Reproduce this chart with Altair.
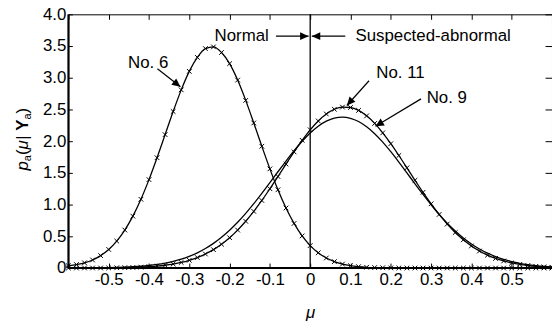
import math
import altair as alt
import pandas as pd

# ---------------- data ----------------
mu = [-0.60, -0.58, -0.56, -0.54, -0.52, -0.50, -0.48, -0.46, -0.44, -0.42,
      -0.40, -0.38, -0.36, -0.34, -0.32, -0.30, -0.28, -0.26, -0.24, -0.22,
      -0.20, -0.18, -0.16, -0.14, -0.12, -0.10, -0.08, -0.06, -0.04, -0.02,
      0.00, 0.02, 0.04, 0.06, 0.08, 0.10, 0.12, 0.14, 0.16, 0.18,
      0.20, 0.22, 0.24, 0.26, 0.28, 0.30, 0.32, 0.34, 0.36, 0.38,
      0.40, 0.42, 0.44, 0.46, 0.48, 0.50, 0.52, 0.54, 0.56, 0.58, 0.60]

no6 = [0.035, 0.055, 0.082, 0.127, 0.196, 0.293, 0.425, 0.599, 0.818, 1.084,
       1.394, 1.739, 2.103, 2.468, 2.809, 3.101, 3.321, 3.460, 3.487, 3.398,
       3.222, 2.963, 2.643, 2.287, 1.920, 1.563, 1.234, 0.946, 0.703, 0.506,
       0.354, 0.240, 0.158, 0.101, 0.062, 0.037, 0.022, 0.012, 0.007, 0.004,
       0.002, 0.001, 0.0, 0.0, 0.0, 0.0, 0.0, 0.0, 0.0, 0.0,
       0.0, 0.0, 0.0, 0.0, 0.0, 0.0, 0.0, 0.0, 0.0, 0.0, 0.0]

no11 = [0.000, 0.000, 0.001, 0.001, 0.001, 0.002, 0.004, 0.006, 0.009, 0.014,
        0.021, 0.030, 0.044, 0.063, 0.088, 0.122, 0.165, 0.221, 0.290, 0.375,
        0.478, 0.598, 0.737, 0.893, 1.065, 1.250, 1.443, 1.639, 1.831, 2.014,
        2.179, 2.319, 2.429, 2.503, 2.537, 2.531, 2.485, 2.399, 2.280, 2.131,
        1.960, 1.774, 1.580, 1.384, 1.193, 1.012, 0.845, 0.693, 0.560, 0.445,
        0.348, 0.268, 0.203, 0.151, 0.111, 0.080, 0.057, 0.040, 0.027, 0.018, 0.012]

no9 = [0.001, 0.001, 0.002, 0.003, 0.004, 0.006, 0.009, 0.014, 0.020, 0.028,
       0.040, 0.056, 0.077, 0.105, 0.140, 0.185, 0.240, 0.308, 0.389, 0.485,
       0.596, 0.721, 0.861, 1.014, 1.176, 1.345, 1.518, 1.687, 1.850, 1.999,
       2.130, 2.237, 2.316, 2.365, 2.380, 2.361, 2.310, 2.227, 2.118, 1.985,
       1.834, 1.671, 1.500, 1.328, 1.160, 0.998, 0.846, 0.708, 0.584, 0.474,
       0.380, 0.300, 0.234, 0.180, 0.136, 0.102, 0.075, 0.054, 0.039, 0.027, 0.019]

series_names = ["No. 6", "No. 11", "No. 9"]
marked_series = ["No. 6", "No. 11"]

x_ticks = [-0.6, -0.5, -0.4, -0.3, -0.2, -0.1, 0.0, 0.1, 0.2, 0.3, 0.4, 0.5, 0.6]
y_ticks = [0.0, 0.5, 1.0, 1.5, 2.0, 2.5, 3.0, 3.5, 4.0]

# annotation texts and anchors (data units)
label_text = ["Normal", "Suspected-abnormal", "No. 6", "No. 11", "No. 9"]
label_mu = [-0.170, 0.305, -0.402, 0.224, 0.339]
label_p = [3.656, 3.656, 3.234, 3.07, 2.68]

arrow_name = ["Normal", "Suspected", "No. 6", "No. 11", "No. 9"]
arrow_mu0 = [-0.085, 0.087, -0.379, 0.146, 0.275]
arrow_p0 = [3.656, 3.656, 3.141, 2.953, 2.667]
arrow_mu1 = [-0.004, 0.004, -0.322, 0.091, 0.162]
arrow_p1 = [3.656, 3.656, 2.859, 2.5625, 2.234]

# ---------------- build tables ----------------
rows = []
for name, vals in zip(series_names, [no6, no11, no9]):
    for m, v in zip(mu, vals):
        rows.append({"mu": m, "p": v, "series": name})
df = pd.DataFrame(rows)
df_marked = df[df["series"].isin(marked_series)]

W, H = 488, 256
XMIN, XMAX, YMIN, YMAX = -0.6, 0.6, 0.0, 4.0
kx = W / (XMAX - XMIN)
ky = H / (YMAX - YMIN)

arrow_rows = []
head_rows = []
for n, a0, b0, a1, b1 in zip(arrow_name, arrow_mu0, arrow_p0, arrow_mu1, arrow_p1):
    arrow_rows.append({"arrow": n, "mu": a0, "p": b0, "o": 0})
    arrow_rows.append({"arrow": n, "mu": a1, "p": b1, "o": 1})
    ang = math.degrees(math.atan2(-(b1 - b0) * ky, (a1 - a0) * kx)) % 360
    head_rows.append({"arrow": n, "mu": a1, "p": b1, "angle": ang})
df_arrow = pd.DataFrame(arrow_rows)
df_head = pd.DataFrame(head_rows)
df_label = pd.DataFrame({"text": label_text, "mu": label_mu, "p": label_p})

FONT = "Liberation Sans"
FS = 17

xscale = alt.Scale(domain=[XMIN, XMAX], nice=False, zero=False)
yscale = alt.Scale(domain=[YMIN, YMAX], nice=False)

x_label_expr = ("datum.value == 0 ? '0' : (abs(datum.value) > 0.55 ? '' : "
                "(datum.value < 0 ? '-' : '') + format(abs(datum.value), '.1f'))")
y_label_expr = "datum.value == 0 ? '0' : format(datum.value, '.1f')"

x_bottom = alt.Axis(orient="bottom", values=x_ticks, offset=-5, tickSize=5,
                    domain=False, grid=False, labelExpr=x_label_expr,
                    labelPadding=3.5, labelFlush=False, labelOverlap=False,
                    title="μ", titleFontStyle="italic", titleFontWeight="normal",
                    titleFontSize=FS, titleFont=FONT, titleBaseline="alphabetic",
                    titleY=55)
y_left = alt.Axis(orient="left", values=y_ticks, offset=-4, tickSize=4,
                  domain=False, grid=False, labelExpr=y_label_expr,
                  labelPadding=2.5, labelFlush=False, labelOverlap=False, title=None)
x_top = alt.Axis(orient="top", values=x_ticks, offset=-5, tickSize=5,
                 domain=False, grid=False, labels=False, title=None)
y_right = alt.Axis(orient="right", values=y_ticks, offset=-7, tickSize=7,
                   domain=False, grid=False, labels=False, title=None)

curves = alt.Chart(df).mark_line(color="black", strokeWidth=1.3,
                                 interpolate="monotone").encode(
    x=alt.X("mu:Q", scale=xscale, axis=x_bottom),
    y=alt.Y("p:Q", scale=yscale, axis=y_left),
    detail="series:N",
)

xmark = "M-1,-1L1,1M-1,1L1,-1"
markers = alt.Chart(df_marked).mark_point(shape=xmark, filled=False, color="black",
                                          strokeWidth=1, size=22, opacity=1).encode(
    x=alt.X("mu:Q", scale=xscale, axis=None),
    y=alt.Y("p:Q", scale=yscale, axis=None),
)

one = pd.DataFrame({"a": [0]})
vline = alt.Chart(one).mark_rule(color="black", strokeWidth=1.3).encode(
    x=alt.XDatum(0.0, type="quantitative", scale=xscale, axis=x_top),
)
bottom_line = alt.Chart(one).mark_rule(color="black", strokeWidth=2).encode(
    y=alt.YDatum(0.0, type="quantitative", scale=yscale, axis=y_right),
)
left_line = alt.Chart(one).mark_rule(color="black", strokeWidth=2).encode(
    x=alt.XDatum(XMIN, type="quantitative", scale=xscale, axis=None),
)

arrows = alt.Chart(df_arrow).mark_line(color="black", strokeWidth=1.2).encode(
    x=alt.X("mu:Q", scale=xscale, axis=None),
    y=alt.Y("p:Q", scale=yscale, axis=None),
    detail="arrow:N",
    order="o:Q",
)
head_path = "M0,0L-1,-0.47L-1,0.47Z"
heads = alt.Chart(df_head).mark_point(shape=head_path, filled=True, color="black",
                                      size=289, opacity=1, strokeWidth=0).encode(
    x=alt.X("mu:Q", scale=xscale, axis=None),
    y=alt.Y("p:Q", scale=yscale, axis=None),
    angle=alt.Angle("angle:Q", scale=None),
)

labels = alt.Chart(df_label).mark_text(font=FONT, fontSize=FS, color="black",
                                       align="center", baseline="middle").encode(
    x=alt.X("mu:Q", scale=xscale, axis=None),
    y=alt.Y("p:Q", scale=yscale, axis=None),
    text="text:N",
)

# y axis title built from styled pieces: p_a(mu| Y_a)
LEFT, TOP = 69, 13
pieces = [
    ("p", "italic", "normal", 17, 0, 9.45),
    ("a", "normal", "normal", 11, 3, 6.1),
    ("(", "normal", "normal", 17, 0, 5.66),
    ("μ", "italic", "normal", 17, 0, 9.8),
    ("|", "normal", "normal", 17, 0, 4.42),
    (" ", "normal", "normal", 17, 0, 4.7),
    ("Y", "normal", "bold", 17, 0, 11.3),
    ("a", "normal", "normal", 11, 3, 6.1),
    (")", "normal", "normal", 17, 0, 5.66),
]
base_x = 28
ypos = 170.6
title_layers = []
for txt, style, weight, size, shift, adv in pieces:
    if txt.strip():
        t = alt.Chart(pd.DataFrame({"t": [txt]})).mark_text(
            font=FONT, fontSize=size, fontStyle=style, fontWeight=weight,
            color="black", angle=270, align="left", baseline="alphabetic",
        ).encode(
            text="t:N",
            x=alt.value(base_x + shift - LEFT),
            y=alt.value(ypos - TOP),
        )
        title_layers.append(t)
    ypos -= adv

chart = alt.layer(
    curves, markers, vline, bottom_line, left_line, arrows, heads, labels,
    *title_layers
).resolve_axis(x="independent", y="independent").properties(
    width=W, height=H,
    autosize=alt.AutoSizeParams(type="none"),
    padding={"left": LEFT, "top": TOP, "right": 0, "bottom": 53},
    background="white",
).configure_view(
    stroke="black", strokeWidth=1
).configure_axis(
    labelFont=FONT, labelFontSize=FS, labelColor="black",
    tickColor="black", tickWidth=1, titleColor="black",
)

chart.save("out.html", embed_options={"renderer": "svg", "actions": False})
